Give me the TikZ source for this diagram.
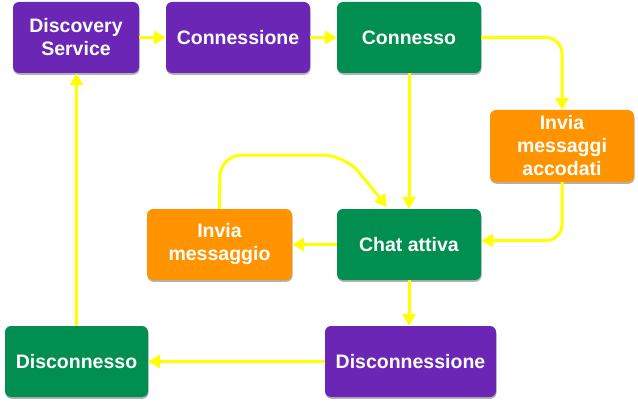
\documentclass[tikz,border=0pt]{standalone}
\usepackage{fontspec}
\setmainfont{Liberation Sans}
\usetikzlibrary{arrows.meta,shadows,calc}
\definecolor{cpurple}{HTML}{6B26B6}
\definecolor{cgreen}{HTML}{008F50}
\definecolor{corange}{HTML}{FF9400}
\definecolor{cyellow}{HTML}{FFFF00}
\tikzset{
  box/.style={rounded corners=6pt, minimum height=71pt, text=white, align=center,
    font=\bfseries\fontsize{19.5}{23}\selectfont, inner sep=2pt,
    drop shadow={shadow xshift=0.5pt, shadow yshift=-1.8pt, opacity=0.3, fill=black}},
  pbox/.style={box, fill=cpurple},
  gbox/.style={box, fill=cgreen},
  obox/.style={box, fill=corange},
  conn/.style={draw=cyellow, line width=3pt, -{Triangle[length=12pt,width=13pt]}},
}
\begin{document}
\begin{tikzpicture}[x=1pt,y=-1pt]
\useasboundingbox (0,0) rectangle (638,404);
\node[pbox, minimum width=126pt] (disc) at (76,37.5) {Discovery\\Service};
\node[pbox, minimum width=144pt] (conn) at (238,37.5) {Connessione};
\node[gbox, minimum width=144pt] (connesso) at (409,37.5) {Connesso};
\node[obox, minimum width=144pt, minimum height=72pt] (accodati) at (562,146) {Invia\\messaggi\\accodati};
\node[gbox, minimum width=144pt] (chat) at (409,244.5) {Chat attiva};
\node[obox, minimum width=145pt] (invia) at (219.5,244.5) {Invia\\messaggio};
\node[gbox, minimum width=143pt] (disconnesso) at (76.5,361.5) {Disconnesso};
\node[pbox, minimum width=171pt] (discon) at (410.5,361.5) {Disconnessione};

\draw[conn] (disc) -- (conn);
\draw[conn] (conn) -- (connesso);
\draw[conn, rounded corners=16pt] (connesso.east) -| (accodati.north);
\draw[conn] (connesso.south) -- (chat.north);
\draw[conn, rounded corners=16pt] (accodati.south) |- ([yshift=4pt]chat.east);
\draw[conn] (chat.west) -- (invia.east);
\draw[conn, rounded corners=22pt] (invia.north) -- (220,155) -- (345,155) -- ([xshift=-22pt,yshift=2pt]chat.north);
\draw[conn] (chat.south) -- (chat.south |- discon.north);
\draw[conn] (discon.west) -- (disconnesso.east);
\draw[conn] (disconnesso.north) -- (disconnesso.north |- disc.south);
\end{tikzpicture}
\end{document}
